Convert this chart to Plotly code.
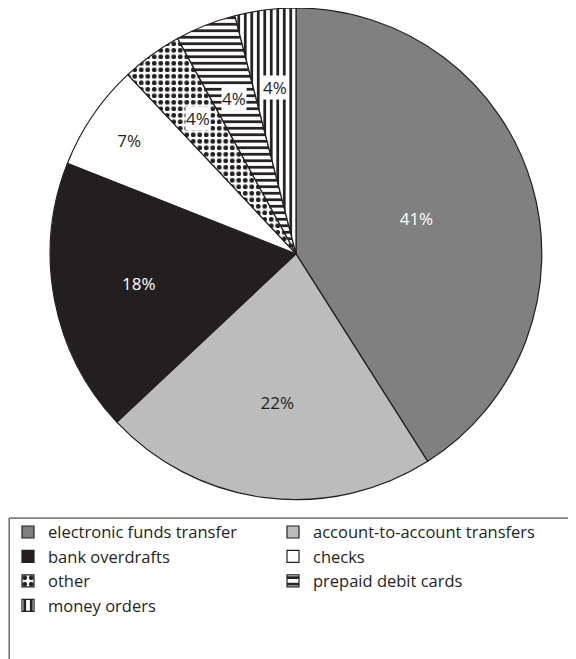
"""Pie chart: share of payment types, recreated with Plotly."""

import math

import plotly.graph_objects as go

LABELS = [
    "electronic funds transfer",
    "account-to-account transfers",
    "bank overdrafts",
    "checks",
    "other",
    "prepaid debit cards",
    "money orders",
]
VALUES = [41, 22, 18, 7, 4, 4, 4]

COLORS = ["#808080", "#bcbcbc", "#231f20", "#ffffff", "#ffffff", "#ffffff", "#ffffff"]
SHAPES = ["", "", "", "", ".", "-", "|"]
TEXT_COLORS = ["#ffffff", "#231f20", "#ffffff", "#231f20", "#231f20", "#231f20", "#231f20"]

FONT = "Open Sans, Arial, sans-serif"
INK = "#231f20"
W, H = 576, 659
DOMAIN_X = [0.0, 1.0]
DOMAIN_Y = [0.254, 1.0]
SMALL = 5  # slices below this share get a boxed label instead of inside text


def small_slice_labels():
    """Boxed labels for the thin slices, placed at each slice's mid angle."""
    total = sum(VALUES)
    radius_px = (DOMAIN_Y[1] - DOMAIN_Y[0]) * H / 2
    cx = (DOMAIN_X[0] + DOMAIN_X[1]) / 2
    cy = (DOMAIN_Y[0] + DOMAIN_Y[1]) / 2
    notes = []
    cum = 0
    for v in VALUES:
        mid = (cum + v / 2) / total * 2 * math.pi
        cum += v
        if v >= SMALL:
            continue
        d = 0.68 * radius_px
        notes.append(
            dict(
                x=cx + d * math.sin(mid) / W,
                y=cy + d * math.cos(mid) / H,
                xref="paper",
                yref="paper",
                xanchor="center",
                yanchor="middle",
                text=f"{v}%",
                showarrow=False,
                bgcolor="white",
                borderpad=0,
                font={"family": FONT, "size": 17, "color": INK},
            )
        )
    return notes


def build_chart():
    texts = [f"{v}%" if v >= SMALL else "" for v in VALUES]
    fig = go.Figure(
        go.Pie(
            labels=LABELS,
            values=VALUES,
            sort=False,
            direction="clockwise",
            rotation=0,
            text=texts,
            textinfo="text",
            textposition="inside",
            insidetextorientation="horizontal",
            textfont={"family": FONT, "size": 17, "color": TEXT_COLORS},
            marker={
                "colors": COLORS,
                "line": {"color": INK, "width": 1.2},
                "pattern": {
                    "shape": SHAPES,
                    "fgcolor": INK,
                    "bgcolor": "#ffffff",
                    "size": 6.5,
                    "solidity": 0.42,
                },
            },
            domain={"x": DOMAIN_X, "y": DOMAIN_Y},
            hoverinfo="label+percent",
        )
    )
    fig.update_layout(
        width=W,
        height=H,
        paper_bgcolor="white",
        plot_bgcolor="white",
        margin={"l": 0, "r": 0, "t": 0, "b": 0, "autoexpand": False},
        font={"family": FONT, "size": 17, "color": INK},
        showlegend=True,
        annotations=small_slice_labels(),
        # legend frame, running off the right and bottom edges as in the source
        shapes=[
            dict(
                type="rect",
                xref="paper",
                yref="paper",
                x0=0.002,
                x1=1.02,
                y0=-0.03,
                y1=0.226,
                line={"color": INK, "width": 1},
                fillcolor="rgba(0,0,0,0)",
                layer="below",
            )
        ],
        legend={
            "orientation": "h",
            "x": 0,
            "xanchor": "left",
            "y": 0.231,
            "yanchor": "top",
            "bgcolor": "rgba(0,0,0,0)",
            "borderwidth": 0,
            "entrywidth": 220,
            "entrywidthmode": "pixels",
            "traceorder": "normal",
            "font": {"family": FONT, "size": 16.5, "color": INK},
        },
    )
    return fig


fig = build_chart()
fig.write_html("out.html")
